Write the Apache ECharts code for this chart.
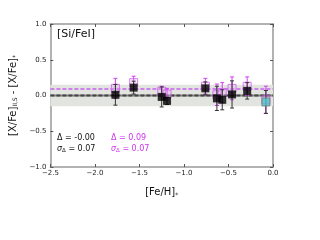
<!DOCTYPE html>
<html><head><meta charset="utf-8">
<script src="https://cdn.jsdelivr.net/npm/echarts@6/dist/echarts.min.js"></script>
<style>html,body{margin:0;padding:0;background:#fff}#c{width:320px;height:240px}</style>
</head><body><div id="c"></div>
<script>
var feh = [-1.77, -1.565, -1.25, -1.19, -0.76, -0.63, -0.57, -0.46, -0.29, -0.08];
var dBlack = [0.01, 0.11, -0.02, -0.075, 0.10, -0.04, -0.06, 0.015, 0.065, -0.09];
var eBlack = [0.145, 0.09, 0.14, 0.05, 0.09, 0.17, 0.14, 0.19, 0.115, 0.16];
var dMag = [0.10, 0.18, 0.06, 0.02, 0.13, 0.01, 0.04, 0.10, 0.13, -0.06];
var eMag = [0.14, 0.09, 0.07, 0.08, 0.11, 0.15, 0.14, 0.16, 0.13, 0.19];
var cyanIndex = [9];
var xTicks = [-2.5, -2.0, -1.5, -1.0, -0.5, 0.0];
var yTicks = [-1.0, -0.5, 0.0, 0.5, 1.0];
var bandHalf = 0.15;
var meanBlack = 0.00, meanMag = 0.09;

var FONT = 'DejaVu Sans';
var xMin = xTicks[0], xMax = xTicks[xTicks.length-1];
var blackPts = [], cyanPts = [], magPts = [], blackErr = [], magErr = [];
for (var i = 0; i < feh.length; i++) {
  if (cyanIndex.indexOf(i) >= 0) cyanPts.push([feh[i], dBlack[i]]); else blackPts.push([feh[i], dBlack[i]]);
  magPts.push([feh[i], dMag[i]]);
  blackErr.push([feh[i], dBlack[i] - eBlack[i], dBlack[i] + eBlack[i]]);
  magErr.push([feh[i], dMag[i] - eMag[i], dMag[i] + eMag[i]]);
}
function errRender(color) {
  return function (params, api) {
    var x = api.value(0);
    var a = api.coord([x, api.value(1)]), b = api.coord([x, api.value(2)]);
    var st = {stroke: color, lineWidth: 1};
    return {type: 'group', children: [
      {type: 'line', shape: {x1: a[0], y1: a[1], x2: b[0], y2: b[1]}, style: st},
      {type: 'line', shape: {x1: a[0]-2, y1: a[1], x2: a[0]+2, y2: a[1]}, style: st},
      {type: 'line', shape: {x1: b[0]-2, y1: b[1], x2: b[0]+2, y2: b[1]}, style: st}
    ]};
  };
}
function fmt(v) { return (v < 0 ? '\u2212' : '') + Math.abs(v).toFixed(1); }
var axLine = {onZero: false, lineStyle: {color: '#999', width: 1.5}};
var tick = {inside: true, length: 3, lineStyle: {color: '#555'}};
var chart = echarts.init(document.getElementById('c'));
chart.setOption({
  animation: false,
  grid: {left: 48, right: 47, top: 24, bottom: 73},
  xAxis: [
    {type: 'value', min: xMin, max: xMax, interval: 0.5, position: 'bottom',
     axisLine: axLine, axisTick: tick, splitLine: {show: false},
     axisLabel: {formatter: fmt, fontSize: 7, color: '#222', fontFamily: FONT, margin: 3},
     name: '[Fe/H]{s|*}', nameLocation: 'middle', nameGap: 20,
     nameTextStyle: {fontSize: 10, fontFamily: FONT, color: '#111', rich: {s: {fontSize: 6, padding: [5,0,0,0], fontFamily: FONT}}}},
    {type: 'value', min: xMin, max: xMax, interval: 0.5, position: 'top',
     axisLine: axLine, axisTick: tick, axisLabel: {show: false}, splitLine: {show: false}}
  ],
  yAxis: [
    {type: 'value', min: yTicks[0], max: yTicks[yTicks.length-1], interval: 0.5, position: 'left',
     axisLine: axLine, axisTick: tick, splitLine: {show: false},
     axisLabel: {formatter: fmt, fontSize: 7, color: '#222', fontFamily: FONT, margin: 4},
     name: '[X/Fe]{s|II,S} - [X/Fe]{s|*}', nameLocation: 'middle', nameGap: 20, nameRotate: 90,
     nameTextStyle: {fontSize: 10, fontFamily: FONT, color: '#111', rich: {s: {fontSize: 6, fontFamily: FONT, padding: [5,0,0,0]}}}},
    {type: 'value', min: yTicks[0], max: yTicks[yTicks.length-1], interval: 0.5, position: 'right',
     axisLine: axLine, axisTick: tick, axisLabel: {show: false}, splitLine: {show: false}}
  ],
  series: [
    {type: 'line', data: [], silent: true, z: 1,
     markArea: {silent: true, itemStyle: {color: '#e2e4df'},
       data: [[{yAxis: -bandHalf}, {yAxis: bandHalf}]]}},
    {type: 'line', data: [[xMin, meanBlack], [xMax, meanBlack]], silent: true, z: 2, symbol: 'none',
     lineStyle: {color: '#888', width: 2}},
    {type: 'line', data: [[xMin, meanBlack], [xMax, meanBlack]], silent: true, z: 2, symbol: 'none',
     lineStyle: {color: '#444', width: 2, type: [4, 2]}},
    {type: 'line', data: [[xMin, meanMag], [xMax, meanMag]], silent: true, z: 2, symbol: 'none',
     lineStyle: {color: '#c860ee', width: 1.5, type: [4, 2]}},
    {type: 'custom', data: magErr, renderItem: errRender('#d040f0'), z: 3},
    {type: 'scatter', data: magPts, symbol: 'rect', symbolSize: 8, z: 4,
     itemStyle: {color: 'rgba(235,170,245,0.35)', borderColor: '#d060f0', borderWidth: 1}},
    {type: 'custom', data: blackErr, renderItem: errRender('#333'), z: 5},
    {type: 'scatter', data: blackPts, symbol: 'rect', symbolSize: 8, z: 6, itemStyle: {color: '#000'}},
    {type: 'scatter', data: cyanPts, symbol: 'rect', symbolSize: 8, z: 6,
     itemStyle: {color: '#4cc3c8', borderColor: '#777', borderWidth: 1}}
  ],
  graphic: [
    {type: 'text', left: 57, top: 29, style: {text: '[Si/FeI]', fontSize: 11, fontFamily: FONT, fill: '#111'}},
    {type: 'text', left: 57, top: 134, style: {text: '\u0394 = -0.00', fontSize: 8, fontFamily: FONT, fill: '#111'}},
    {type: 'text', left: 57, top: 145, style: {text: '{i|\u03c3}{s|\u0394} = 0.07', fontSize: 8, fontFamily: FONT, fill: '#111',
      rich: {i: {fontStyle: 'italic', fontSize: 8, fontFamily: FONT}, s: {fontSize: 5.5, padding: [4,0,0,0], fontFamily: FONT}}}},
    {type: 'text', left: 111, top: 134, style: {text: '\u0394 = 0.09', fontSize: 8, fontFamily: FONT, fill: '#cc33ee'}},
    {type: 'text', left: 111, top: 145, style: {text: '{i|\u03c3}{s|\u0394} = 0.07', fontSize: 8, fontFamily: FONT, fill: '#cc33ee',
      rich: {i: {fontStyle: 'italic', fontSize: 8, fontFamily: FONT, color: '#cc33ee'}, s: {fontSize: 5.5, padding: [4,0,0,0], fontFamily: FONT, color: '#cc33ee'}}}}
  ]
});
</script></body></html>
